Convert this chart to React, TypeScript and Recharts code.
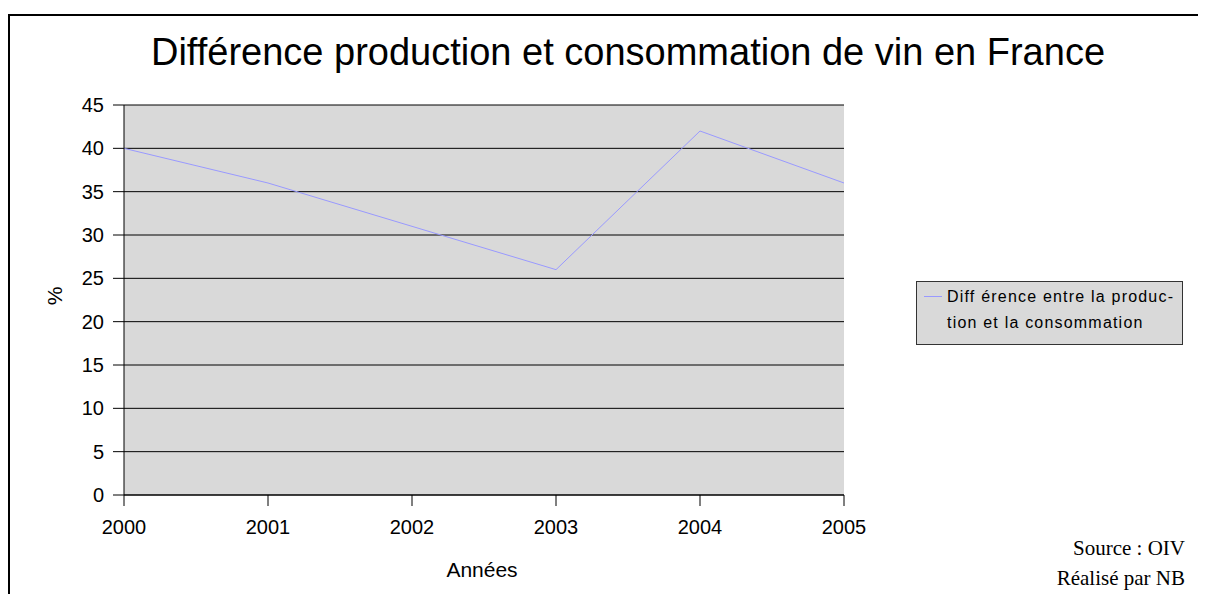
import { CartesianGrid, Line, LineChart, XAxis, YAxis } from "recharts";

const YEARS = [2000, 2001, 2002, 2003, 2004, 2005];
const DIFFERENCE = [40, 36, 31, 26, 42, 36];
const Y_TICKS = [0, 5, 10, 15, 20, 25, 30, 35, 40, 45];
const SERIES_NAME = "Différence entre la production et la consommation";

const data = YEARS.map((year, i) => ({ year, value: DIFFERENCE[i] }));

const SANS = '"Liberation Sans", Arial, sans-serif';
const SERIF = '"Liberation Serif", "Times New Roman", serif';
const LINE_COLOR = "#9999ff";
const PLOT_BG = "#d9d9d9";

const AXIS_PROPS = {
  stroke: "#000",
  tick: { fill: "#000", fontSize: 20, fontFamily: SANS },
  tickLine: { stroke: "#000" },
  tickSize: 11,
} as const;

// legend drawn by hand, Excel-style box to the right of the plot
function LegendBox() {
  return (
    <div
      style={{
        position: "absolute",
        left: 908,
        top: 273,
        width: 267,
        height: 64,
        boxSizing: "border-box",
        border: "1px solid #333",
        background: PLOT_BG,
        fontFamily: SANS,
        fontSize: 16,
        letterSpacing: 1.2,
        lineHeight: "26px",
        padding: "2px 0 0 30px",
        color: "#000",
        whiteSpace: "nowrap",
      }}
    >
      <div
        style={{
          position: "absolute",
          left: 7,
          top: 14,
          width: 18,
          height: 1,
          background: LINE_COLOR,
        }}
      />
      <div>Diff érence entre la produc-</div>
      <div>tion et la consommation</div>
    </div>
  );
}

export default function App() {
  return (
    <div
      style={{
        position: "relative",
        width: 1198,
        height: 586,
        overflow: "hidden",
        background: "#fff",
      }}
    >
      {/* frame, only top and left edges visible */}
      <div
        style={{
          position: "absolute",
          left: 0,
          top: 6,
          width: 1300,
          height: 700,
          border: "2px solid #000",
        }}
      />
      <div
        style={{
          position: "absolute",
          top: 23,
          left: 0,
          width: 1240,
          textAlign: "center",
          fontFamily: SANS,
          fontSize: 38,
          whiteSpace: "nowrap",
        }}
      >
        Différence production et consommation de vin en France
      </div>

      <div style={{ position: "absolute", left: 0, top: 0 }}>
        <LineChart
          width={1198}
          height={586}
          data={data}
          margin={{ top: 97, right: 362, left: 0, bottom: 0 }}
        >
          <CartesianGrid
            vertical={false}
            stroke="#000"
            fill={PLOT_BG}
            fillOpacity={1}
          />
          <XAxis
            dataKey="year"
            type="number"
            domain={[2000, 2005]}
            ticks={YEARS}
            height={99}
            tickMargin={14}
            {...AXIS_PROPS}
          />
          <YAxis
            domain={[0, 45]}
            ticks={Y_TICKS}
            width={116}
            tickMargin={9}
            {...AXIS_PROPS}
          />
          <Line
            name={SERIES_NAME}
            dataKey="value"
            stroke={LINE_COLOR}
            strokeWidth={1}
            dot={false}
            activeDot={false}
            isAnimationActive={false}
          />
        </LineChart>
      </div>

      <LegendBox />

      <div
        style={{
          position: "absolute",
          left: 38,
          top: 276,
          fontFamily: SANS,
          fontSize: 21,
          transform: "rotate(-90deg)",
          transformOrigin: "center",
        }}
      >
        %
      </div>
      <div
        style={{
          position: "absolute",
          left: 474 - 100,
          top: 550,
          width: 200,
          textAlign: "center",
          fontFamily: SANS,
          fontSize: 21,
        }}
      >
        Années
      </div>
      <div
        style={{
          position: "absolute",
          right: 21,
          top: 525,
          textAlign: "right",
          fontFamily: SERIF,
          fontSize: 21,
          lineHeight: "30px",
        }}
      >
        <div>Source : OIV</div>
        <div>Réalisé par NB</div>
      </div>
    </div>
  );
}
